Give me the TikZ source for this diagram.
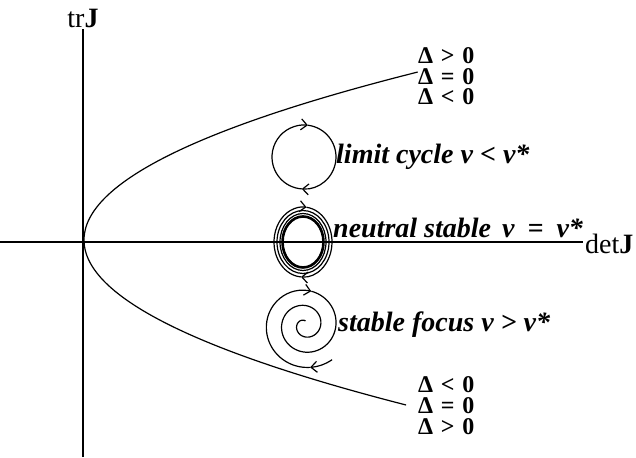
\documentclass[tikz,border=0pt]{standalone}
\usepackage{fontspec}
\setmainfont{Liberation Serif}
\usetikzlibrary{arrows.meta}
\newcommand\figfont{\fontsize{28}{28}\selectfont}
\newcommand\delfont{\fontsize{24}{20.5}\selectfont}
\newcommand\relsp{\hspace{0.32em}}
\tikzset{axis/.style={line width=1.3pt},orbit/.style={line width=1.2pt},flow/.style={-{Straight Barb[length=6pt,width=11pt]}},lbl/.style={font=\figfont\bfseries\itshape,anchor=west,inner sep=0pt},delta/.style={font=\delfont\bfseries,anchor=base west,inner sep=0pt,text height=16pt,text depth=1pt}}

\begin{document}
\begin{tikzpicture}[x=1pt,y=1pt]
\useasboundingbox (0,0) rectangle (636,457);
% axes
\coordinate (o) at (83,215);
\coordinate (top) at (83,428);
\coordinate (bot) at (83,0);
\coordinate (left) at (0,215);
\coordinate (right) at (583,215);
\draw[axis] (bot)--(top);
\draw[axis] (left)--(right);
\node[font=\figfont,anchor=south,inner sep=1pt] (trj) at (83,428) {tr\textbf{J}};
\node[font=\figfont,anchor=west,inner sep=1pt] (detj) at (584,213) {det\textbf{J}};
% parabola Delta = 0
\draw[orbit] plot[domain=-1.65:1.68,samples=80,smooth] ({84+118.3*\x*\x},{217+100*\x});
\foreach \txt [count=\i] in {Δ\relsp>\relsp 0,Δ\relsp=\relsp 0,Δ\relsp<\relsp 0}
  \node[delta] (dtop\i) at (418,{393-20.5*(\i-1)}) {\txt};
\foreach \txt [count=\i] in {Δ\relsp<\relsp 0,Δ\relsp=\relsp 0,Δ\relsp>\relsp 0}
  \node[delta] (dbot\i) at (418,{64-20.5*(\i-1)}) {\txt};
% limit cycle
\coordinate (lc) at (304,300);
\draw[orbit,flow] (lc) ++(266:32pt) arc[start angle=266,end angle=83,radius=32pt];
\draw[orbit,flow] (lc) ++(83:32pt) arc[start angle=83,end angle=-94,radius=32pt];
\node[lbl] (lclbl) at (336,300) {limit cycle v < v*};
% neutral stable
\coordinate (ns) at (303,215);
\draw[orbit,flow] (ns) ++(266:29pt and 35pt) arc[start angle=266,end angle=83,x radius=29pt,y radius=35pt];
\draw[orbit,flow] (ns) ++(83:29pt and 35pt) arc[start angle=83,end angle=-94,x radius=29pt,y radius=35pt];
\foreach \rx/\ry/\lw in {26/31.5/1.2pt,23/28.5/1.2pt,20.5/25.5/2.6pt}
  \draw[line width=\lw] (ns) ellipse[x radius=\rx pt,y radius=\ry pt];
\node[lbl,anchor=base west] (nslbl) at (333,219) {neutral stable\hspace{4pt} v\hspace{6pt} =\hspace{6pt} v*};
% stable focus
\draw[orbit,flow] plot[domain=0:0.033,samples=10,smooth] ({305+(44-40*\x)*cos(-52-945*\x)},{132+(44-40*\x)*sin(-52-945*\x)});
\draw[orbit,flow] plot[domain=0.033:0.242,samples=30,smooth] ({305+(44-40*\x)*cos(-52-945*\x)},{132+(44-40*\x)*sin(-52-945*\x)});
\draw[orbit] plot[domain=0.242:1,samples=120,smooth] ({305+(44-40*\x)*cos(-52-945*\x)},{132+(44-40*\x)*sin(-52-945*\x)});
\node[lbl] (sflbl) at (338,132) {stable focus v > v*};
\end{tikzpicture}
\end{document}
